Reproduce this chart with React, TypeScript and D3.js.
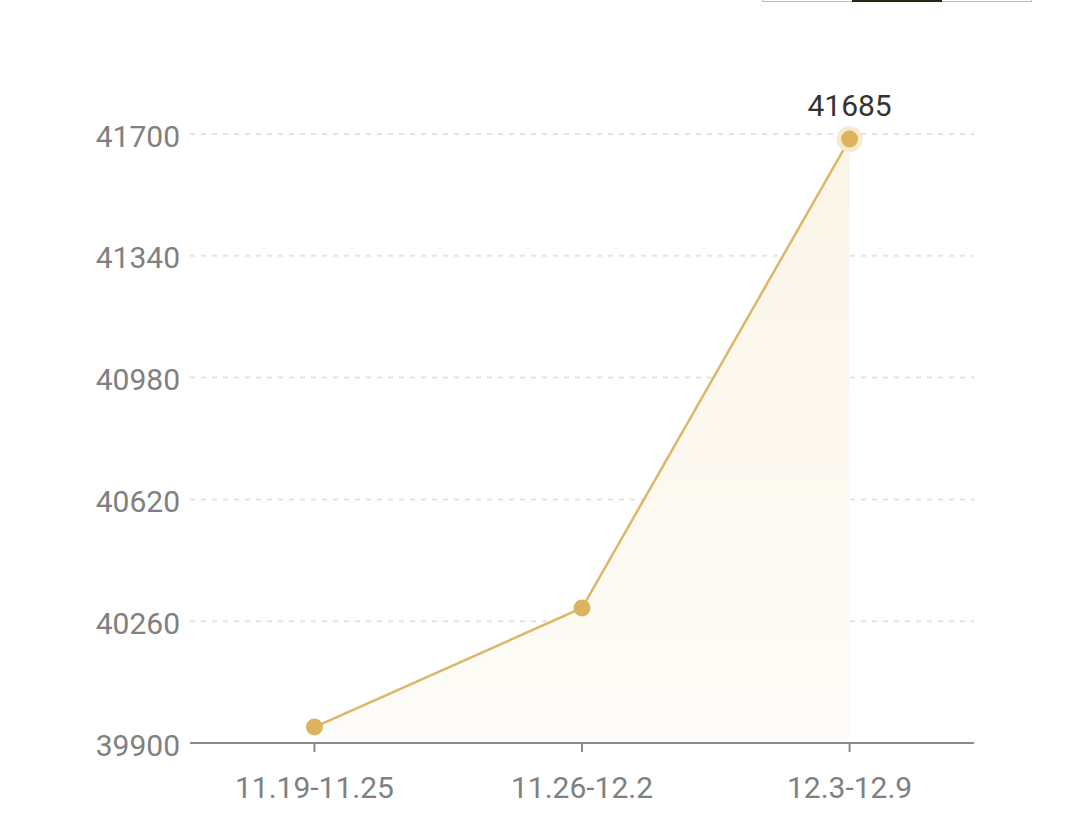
import React from "react";
import * as d3 from "d3";

const categories = ["11.19-11.25", "11.26-12.2", "12.3-12.9"];
const values = [39947, 40299, 41685];
const yTicks = [39900, 40260, 40620, 40980, 41340, 41700];

const W = 1080;
const H = 834;
const left = 190;
const right = 974;
const top = 134;
const bottom = 743;

export default function App() {
  const x = d3.scalePoint<string>().domain(categories).range([left, right]).padding(0.465);
  const y = d3.scaleLinear().domain([39900, 41700]).range([bottom, top]);
  const pts: [number, number][] = categories.map((c, i) => [x(c) as number, y(values[i])]);
  const line = d3.line<[number, number]>().x((d) => d[0]).y((d) => d[1])(pts) || "";
  const area =
    d3
      .area<[number, number]>()
      .x((d) => d[0])
      .y0(bottom)
      .y1((d) => d[1])(pts) || "";
  const font = "Roboto, 'Noto Sans', sans-serif";
  const last = pts[pts.length - 1];
  return (
    <div style={{ position: "absolute", left: 0, top: 0, width: W, height: H, background: "#fff" }}>
      <svg width={W} height={H} style={{ display: "block" }}>
        <defs>
          <linearGradient id="ag" x1="0" y1="0" x2="0" y2="1">
            <stop offset="0%" stopColor="#fbf5e8" />
            <stop offset="100%" stopColor="#fefcf8" />
          </linearGradient>
        </defs>
        {/* cropped top element */}
        <rect x={762.5} y={-10} width={269} height={11.5} fill="#fff" stroke="#bdbdbd" strokeWidth={1} />
        <rect x={852} y={-10} width={90} height={12} fill="#2a2616" />
        {/* grid */}
        {yTicks.slice(1).map((t) => (
          <line
            key={t}
            x1={left}
            x2={right}
            y1={y(t)}
            y2={y(t)}
            stroke="#e3e3e3"
            strokeWidth={2}
            strokeDasharray="5,6"
          />
        ))}
        <path d={area} fill="url(#ag)" />
        {/* axis */}
        <line x1={left} x2={right} y1={bottom} y2={bottom} stroke="#8a8a8a" strokeWidth={2} />
        {categories.map((c) => (
          <line key={c} x1={x(c)} x2={x(c)} y1={bottom} y2={bottom + 9} stroke="#8a8a8a" strokeWidth={2} />
        ))}
        {yTicks.map((t) => (
          <text
            key={t}
            x={180}
            y={y(t) + 2}
            dy="0.35em"
            textAnchor="end"
            fontFamily={font}
            fontSize={30}
            fill="#808080"
          >
            {t}
          </text>
        ))}
        {categories.map((c) => (
          <text key={c} x={x(c)} y={798} textAnchor="middle" fontFamily={font} fontSize={30} fill="#808080">
            {c}
          </text>
        ))}
        <path d={line} fill="none" stroke="#dcb767" strokeWidth={2.5} />
        <circle cx={last[0]} cy={last[1]} r={13} fill="#f6ead0" />
        {pts.map((p, i) => (
          <circle key={i} cx={p[0]} cy={p[1]} r={8.5} fill="#dcb35f" />
        ))}
        <text x={last[0]} y={116} textAnchor="middle" fontFamily={font} fontSize={30} fill="#333">
          {values[values.length - 1]}
        </text>
      </svg>
    </div>
  );
}
